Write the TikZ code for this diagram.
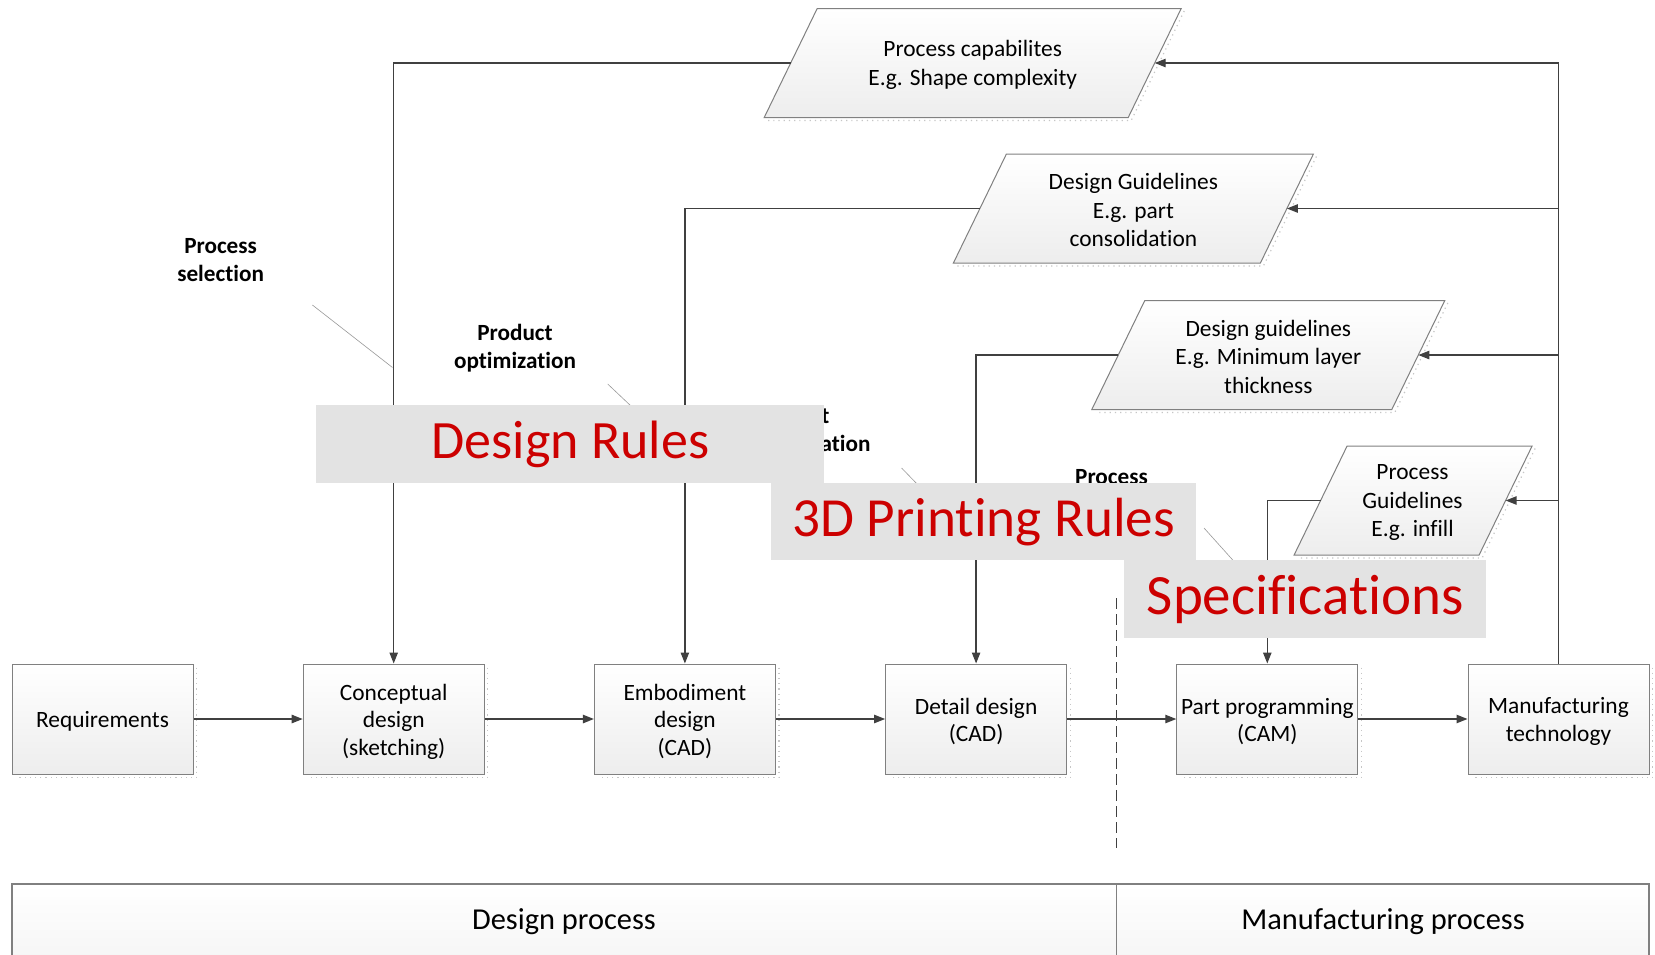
\documentclass[tikz,border=0pt]{standalone}
\usepackage{fontspec}
\setmainfont{Carlito}[Ligatures=NoCommon]
\usetikzlibrary{arrows.meta,calc}

\definecolor{linegray}{HTML}{404040}
\definecolor{framegray}{HTML}{808080}
\definecolor{rulegray}{HTML}{E3E3E3}
\definecolor{rulered}{HTML}{CC0000}

\tikzset{
  flow/.style={draw=linegray, line width=0.65pt, -{Triangle[length=5.5pt,width=4.2pt]}},
  leader/.style={draw=gray!80, line width=0.3pt},
  divider/.style={draw=linegray, line width=0.5pt, dash pattern=on 5.5pt off 2.5pt},
  shadowline/.style={draw=gray!45, line width=0.6pt, dotted},
  stage/.style={draw=framegray, line width=0.5pt, top color=white, bottom color=gray!14,
    minimum width=90.5pt, minimum height=55pt, inner sep=0pt},
  datashape/.style={draw=framegray, line width=0.5pt, top color=white, bottom color=gray!14},
  datatext/.style={align=center, inner sep=0pt, yshift=-1.2pt, font=\fontsize{11.7}{14.25}\selectfont},
  stagetext/.style={datatext, font=\fontsize{11.7}{13.75}\selectfont},
  note/.style={align=center, inner sep=0pt, yshift=-0.6pt, font=\fontsize{11.6}{14}\selectfont\bfseries},
  phasebar/.style={draw=framegray, line width=0.6pt, top color=white, bottom color=gray!12},
  phasetext/.style={inner sep=0pt, yshift=-1.4pt, font=\fontsize{15.2}{18}\selectfont},
  rulebox/.style={fill=rulegray, inner sep=0pt, anchor=north west, text=rulered},
}
\newcommand\bannertext[2]{\fontsize{#1}{32}\selectfont\raisebox{-1pt}{#2}}

\begin{document}
\begin{tikzpicture}[x=0.5pt, y=-0.5pt]
\useasboundingbox (0,0) rectangle (1655,954);
\fill[white] (0,0) rectangle (1655,954);

% phase bar along the bottom
\begin{scope}
  \clip (0,0) rectangle (1655,954);
  \path[phasebar] (12,884) rectangle (1116.7,1010);
  \path[phasebar] (1116.7,884) rectangle (1649,1010);
\end{scope}
\node[phasetext] (dproc) at (564,919) {Design process};
\node[phasetext] (mproc) at (1383,919) {Manufacturing process};

% boundary between design and manufacturing
\coordinate (dtop) at (1116.7,598);
\coordinate (dbot) at (1116.7,848);
\draw[divider] (dtop) -- (dbot);

% process stages
\foreach \n/\cx in {req/102.5, con/393.7, emb/684.9, det/976.1, cam/1267.3, mft/1558.5}{
  \node[stage] (\n) at (\cx,719) {};
  \draw[shadowline] ([xshift=1.5pt,yshift=-2pt]\n.north east) -- ([xshift=1.5pt,yshift=-1.5pt]\n.south east) -- ([xshift=2pt,yshift=-1.5pt]\n.south west);
}
\node[stagetext] at (req) {Requirements};
\node[stagetext] at (con) {Conceptual\\design\\(sketching)};
\node[stagetext] at (emb) {Embodiment\\design\\(CAD)};
\node[stagetext] at (det) {Detail design\\(CAD)};
\node[stagetext] at (cam) {Part programming\\(CAM)};
\node[stagetext] at (mft) {Manufacturing\\technology};

% data / guideline parallelograms
\foreach \n/\cx/\cy/\w in {pc/972.7/63/364, dg/1133.4/208.5/307, dl/1268.3/355/300, pg/1413.1/500.5/185}{
  \draw[shadowline] (\cx+\w/2+26.5+3,\cy-52) -- (\cx+\w/2-26.5+3,\cy+54.5+3) -- (\cx-\w/2-26.5+4,\cy+54.5+3);
  \path[datashape] (\cx-\w/2+26.5,\cy-54.5) -- (\cx+\w/2+26.5,\cy-54.5) -- (\cx+\w/2-26.5,\cy+54.5) -- (\cx-\w/2-26.5,\cy+54.5) -- cycle;
  \coordinate (\n-R) at (\cx+\w/2,\cy);
  \coordinate (\n-L) at (\cx-\w/2,\cy);
}
\node[datatext] (pct) at (972.7,62.5) {Process capabilites\\E.g. Shape complexity};
\node[datatext] (dgt) at (1133.4,208) {Design Guidelines\\E.g. part\\consolidation};
\node[datatext] (dlt) at (1268.3,354.5) {Design guidelines\\E.g. Minimum layer\\thickness};
\node[datatext] (pgt) at (1412.5,500.3) {Process\\Guidelines\\E.g. infill};

% main flow
\draw[flow] (req) -- (con);
\draw[flow] (con) -- (emb);
\draw[flow] (emb) -- (det);
\draw[flow] (det) -- (cam);
\draw[flow] (cam) -- (mft);

% feedback from manufacturing technology
\draw[flow] (mft.north) |- (pc-R);
\draw[flow] (mft.north) |- (dg-R);
\draw[flow] (mft.north) |- (dl-R);
\draw[flow] (mft.north) |- (pg-R);

% guidelines feeding the design stages
\draw[flow] (pc-L) -| (con.north);
\draw[flow] (dg-L) -| (emb.north);
\draw[flow] (dl-L) -| (det.north);
\draw[flow] (pg-L) -| (cam.north);

% activity labels with leader lines
\node[note] (psel) at (220.6,259) {Process\\selection};
\node[note] (popt) at (515,347) {Product\\optimization};
\node[note] (partopt) at (809.5,430.5) {Part\\optimization};
\node[note] (proc) at (1111.5,476) {Process};
\coordinate (l1a) at (312.4,305);  \coordinate (l1b) at (392.5,367.5);
\coordinate (l2a) at (607.7,384);  \coordinate (l2b) at (684.9,457);
\coordinate (l3a) at (901.6,468);  \coordinate (l3b) at (976.1,545);
\coordinate (l4a) at (1204,528);   \coordinate (l4b) at (1267.3,598.5);
\draw[leader] (l1a) -- (l1b);
\draw[leader] (l2a) -- (l2b);
\draw[leader] (l3a) -- (l3b);
\draw[leader] (l4a) -- (l4b);

% rule banners laid over the diagram
\node[rulebox, minimum width=254pt, minimum height=39pt] (drules) at (316,405) {\bannertext{27}{Design Rules}};
\node[rulebox, minimum width=212.75pt, minimum height=38.5pt] (prules) at (770.5,483) {\bannertext{27.6}{3D Printing Rules}};
\node[rulebox, minimum width=181pt, minimum height=39pt] (specs) at (1124,560) {\bannertext{28.5}{Specifications}};
\end{tikzpicture}
\end{document}
